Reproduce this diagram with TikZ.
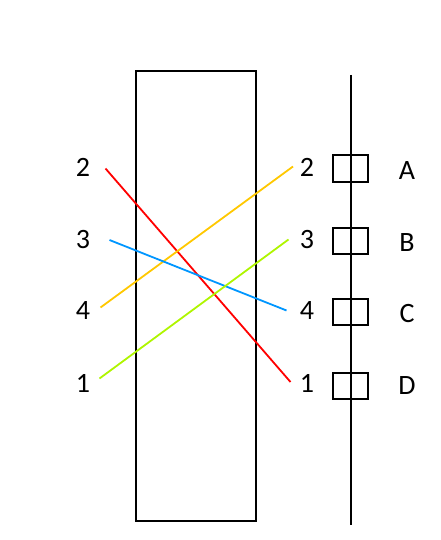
\documentclass[tikz,border=0pt]{standalone}
\usepackage{fontspec}
\setmainfont{Carlito}
\definecolor{cred}{RGB}{255,0,0}
\definecolor{cyel}{RGB}{255,200,0}
\definecolor{cblue}{RGB}{0,150,255}
\definecolor{cgreen}{RGB}{175,245,0}
\begin{document}
\begin{tikzpicture}[x=1pt,y=-1pt,
  lbl/.style={inner sep=0pt,font=\fontsize{28}{28}\selectfont},
  wire/.style={line width=1.8pt},
  tick/.style={draw=black,line width=2pt,minimum width=35pt,minimum height=26pt,inner sep=0pt}]
\useasboundingbox (0,0) rectangle (440,540);
% box
\draw[line width=2pt] (136,71) rectangle (256,521);
% squares on the rail
\node[tick] (sa) at (350.5,168.5) {};
\node[tick] (sb) at (350.5,240.5) {};
\node[tick] (sc) at (350,312) {};
\node[tick] (sd) at (350,385.5) {};
% vertical rail
\coordinate (rt) at (351,75);
\coordinate (rb) at (351,525);
\draw[line width=1.6pt] (rt) -- (rb);
% labels
\node[lbl] (l2) at (83,167) {2};
\node[lbl] (l3) at (83,240) {3};
\node[lbl] (l4) at (83,311) {4};
\node[lbl] (l1) at (83,383) {1};
\node[lbl] (r2) at (307,167) {2};
\node[lbl] (r3) at (307,240) {3};
\node[lbl] (r4) at (307,311) {4};
\node[lbl] (r1) at (307,383) {1};
\node[lbl] (la) at (407,171) {A};
\node[lbl] (lb) at (407,243) {B};
\node[lbl] (lc) at (407,314) {C};
\node[lbl] (ld) at (407,386) {D};
% wire end points
\coordinate (a2) at (105.5,168.5);
\coordinate (a3) at (109.5,240);
\coordinate (a4) at (100.5,307.5);
\coordinate (a1) at (99.5,378.5);
\coordinate (b2) at (293,166.5);
\coordinate (b3) at (288.5,239.5);
\coordinate (b4) at (286.5,310.5);
\coordinate (b1) at (290.5,382);
\draw[wire,cred] (a2) -- (b1);
\draw[wire,cyel] (a4) -- (b2);
\draw[wire,cblue] (a3) -- (b4);
\draw[wire,cgreen] (a1) -- (b3);
\end{tikzpicture}
\end{document}
